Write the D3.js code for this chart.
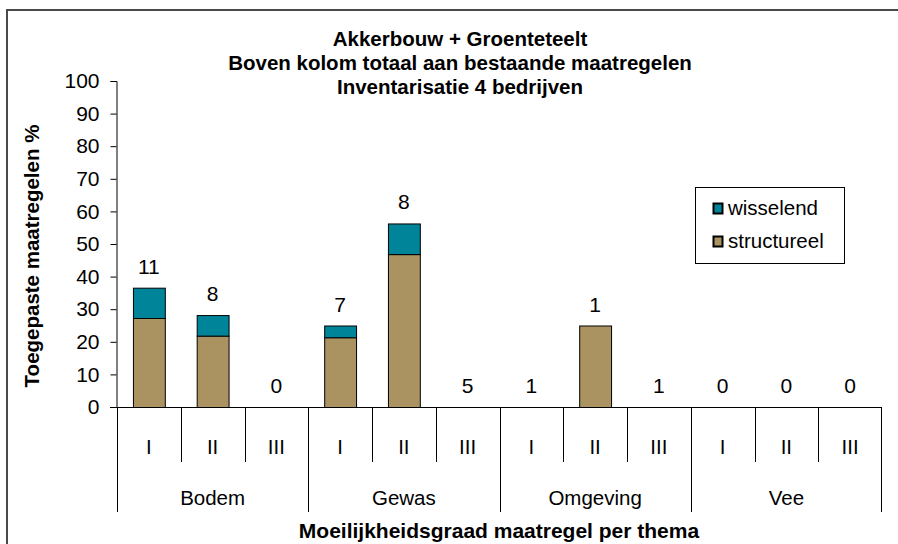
<!DOCTYPE html>
<html>
<head>
<meta charset="utf-8">
<script src="https://cdn.jsdelivr.net/npm/d3@7"></script>
<style>
  body { margin: 0; background: #fff; }
  text { font-family: "Liberation Sans", Arial, sans-serif; fill: #000; }
</style>
</head>
<body>
<svg width="898" height="544"></svg>
<script>
(function (d3) {
    'use strict';

    // data
    const groups = ['Bodem', 'Gewas', 'Omgeving', 'Vee'];
    const levels = ['I', 'II', 'III'];
    const structureel = [27.3, 21.9, 0, 21.4, 46.9, 0, 0, 25, 0, 0, 0, 0];
    const wisselend = [9.3, 6.3, 0, 3.6, 9.4, 0, 0, 0, 0, 0, 0, 0];
    const counts = [11, 8, 0, 7, 8, 5, 1, 1, 1, 0, 0, 0];
    const yTicks = [0, 10, 20, 30, 40, 50, 60, 70, 80, 90, 100];
    const titleLines = ['Akkerbouw + Groenteteelt', 'Boven kolom totaal aan bestaande maatregelen', 'Inventarisatie 4 bedrijven'];

    const colTeal = '#00849a';
    const colTan = '#aa9360';
    const fs = 20.5;

    const svg = d3.select('svg');

    const left = 117, right = 882, top = 81, bottom = 407;

    // one key per column: group|level
    const keys = [];
    groups.forEach(g => levels.forEach(l => keys.push(g + '|' + l)));

    const x = d3.scaleBand()
        .domain(keys)
        .range([left, right])
        .paddingInner(0.5)
        .paddingOuter(0.25);

    const y = d3.scaleLinear()
        .domain([0, 100])
        .range([bottom, top]);

    // outer frame (only top and left are in view)
    svg.append('path')
        .attr('d', 'M7,560 V10 H900')
        .attr('fill', 'none')
        .attr('stroke', '#4a4a4a')
        .attr('stroke-width', 2);

    // title
    svg.append('g').selectAll('text')
        .data(titleLines)
        .join('text')
        .attr('x', 460)
        .attr('y', (d, i) => 45.5 + i * 24)
        .attr('text-anchor', 'middle')
        .attr('font-size', 20.5)
        .attr('font-weight', 'bold')
        .text(d => d);

    // y axis
    const yAxis = svg.append('g')
        .attr('transform', `translate(${left - 0.5},0)`)
        .call(d3.axisLeft(y).tickValues(yTicks).tickSize(6).tickPadding(11));
    yAxis.select('.domain').attr('stroke', '#000');
    yAxis.selectAll('.tick line').attr('stroke', '#000');
    yAxis.selectAll('.tick text')
        .attr('font-size', 21)
        .attr('font-family', '"Liberation Sans", Arial, sans-serif');

    svg.append('text')
        .attr('transform', `translate(38.5,256) rotate(-90)`)
        .attr('text-anchor', 'middle')
        .attr('font-size', 20.5)
        .attr('font-weight', 'bold')
        .text('Toegepaste maatregelen %');

    // bars
    const bars = svg.append('g');
    keys.forEach((k, i) => {
        const s = structureel[i], w = wisselend[i];
        if (s > 0) {
            bars.append('rect')
                .attr('x', x(k) + 0.5)
                .attr('y', y(s) + 0.5)
                .attr('width', x.bandwidth())
                .attr('height', y(0) - y(s))
                .attr('fill', colTan)
                .attr('stroke', '#000');
        }
        if (w > 0) {
            bars.append('rect')
                .attr('x', x(k) + 0.5)
                .attr('y', y(s + w) + 0.5)
                .attr('width', x.bandwidth())
                .attr('height', y(s) - y(s + w))
                .attr('fill', colTeal)
                .attr('stroke', '#000');
        }
    });

    // count labels above columns
    svg.append('g').selectAll('text')
        .data(keys)
        .join('text')
        .attr('x', d => x(d) + x.bandwidth() / 2)
        .attr('y', (d, i) => y(structureel[i] + wisselend[i]) - 14)
        .attr('text-anchor', 'middle')
        .attr('font-size', 21)
        .text((d, i) => counts[i]);

    // x axis line
    svg.append('line')
        .attr('x1', left - 7).attr('x2', right)
        .attr('y1', bottom + 0.5).attr('y2', bottom + 0.5)
        .attr('stroke', '#000');

    // category dividers and labels
    const step = x.step();
    const xAxis = svg.append('g');
    keys.forEach((k, i) => {
        const x0 = left + i * step;
        const isGroupEdge = i % 3 === 0;
        xAxis.append('line')
            .attr('x1', Math.round(x0) + 0.5).attr('x2', Math.round(x0) + 0.5)
            .attr('y1', bottom).attr('y2', isGroupEdge ? 512 : 462)
            .attr('stroke', '#000');
        xAxis.append('text')
            .attr('x', x0 + step / 2)
            .attr('y', 453.5)
            .attr('text-anchor', 'middle')
            .attr('font-size', fs)
            .text(levels[i % 3]);
    });
    xAxis.append('line')
        .attr('x1', right - 0.5).attr('x2', right - 0.5)
        .attr('y1', bottom).attr('y2', 512)
        .attr('stroke', '#000');

    groups.forEach((g, gi) => {
        xAxis.append('text')
            .attr('x', left + (gi * 3 + 1.5) * step)
            .attr('y', 504.5)
            .attr('text-anchor', 'middle')
            .attr('font-size', fs)
            .text(g);
    });

    svg.append('text')
        .attr('x', 499)
        .attr('y', 537.5)
        .attr('text-anchor', 'middle')
        .attr('font-size', 21)
        .attr('font-weight', 'bold')
        .text('Moeilijkheidsgraad maatregel per thema');

    // legend
    const legend = svg.append('g');
    legend.append('rect')
        .attr('x', 695.5).attr('y', 187.5)
        .attr('width', 149).attr('height', 76)
        .attr('fill', '#fff')
        .attr('stroke', '#000');
    const legendItems = [['wisselend', colTeal], ['structureel', colTan]];
    legendItems.forEach((d, i) => {
        legend.append('rect')
            .attr('x', 713.5).attr('y', 203.5 + i * 33)
            .attr('width', 9).attr('height', 10)
            .attr('fill', d[1])
            .attr('stroke', '#000')
            .attr('stroke-width', 2);
        legend.append('text')
            .attr('x', 728)
            .attr('y', 215 + i * 33)
            .attr('font-size', fs)
            .text(d[0]);
    });

}(d3));
</script>
</body>
</html>
